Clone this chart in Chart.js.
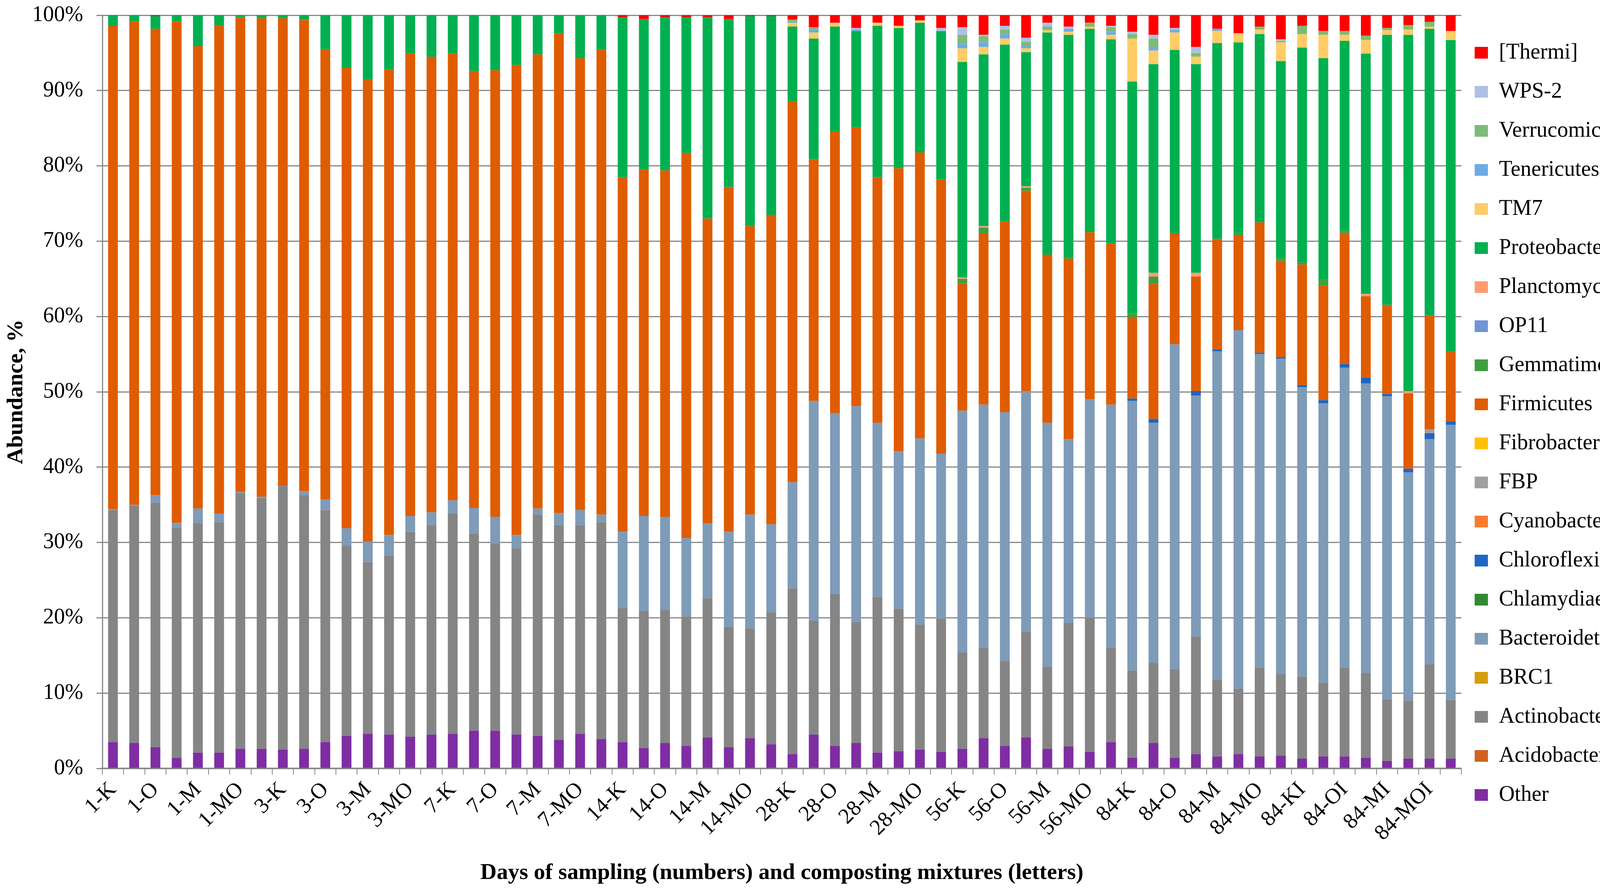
<!DOCTYPE html>
<html>
<head>
<meta charset="utf-8">
<script src="https://cdn.jsdelivr.net/npm/chart.js@4/dist/chart.umd.min.js"></script>
<style>
  html, body { margin: 0; padding: 0; background: #fff; }
  #wrap { width: 4301px; height: 2291px; }
</style>
</head>
<body>
<div id="wrap"><canvas id="chart" width="4301" height="2291"></canvas></div>
<script>
// samples: day-mixture, two replicate bars each
const samples = ['1-K','1-O','1-M','1-MO','3-K','3-O','3-M','3-MO','7-K','7-O','7-M','7-MO',
  '14-K','14-O','14-M','14-MO','28-K','28-O','28-M','28-MO','56-K','56-O','56-M','56-MO',
  '84-K','84-O','84-M','84-MO','84-KI','84-OI','84-MI','84-MOI'];
const yTicks = [0,10,20,30,40,50,60,70,80,90,100];

// relative abundance (%) per bar
const other = [3.5,3.4,2.8,1.4,2.1,2.1,2.6,2.6, 2.5,2.6,3.5,4.3,4.6,4.5,4.2,4.5,
  4.6,5.0,5.0,4.5,4.3,3.8,4.6,3.9, 3.5,2.7,3.4,3.0,4.1,2.8,4.0,3.2,
  1.9,4.5,3.0,3.4,2.1,2.3,2.5,2.2, 2.6,4.0,3.0,4.1,2.6,2.9,2.2,3.5,
  1.4,3.4,1.4,1.9,1.6,1.9,1.6,1.7, 1.3,1.6,1.6,1.4,1.0,1.3,1.3,1.3];
const acidobacteria = [0,0,0,0,0,0,0,0, 0,0,0,0,0,0,0,0, 0,0,0,0,0,0,0,0, 0,0,0,0,0,0,0,0,
  0,0,0,0,0,0,0,0, 0,0,0,0,0,0,0,0, 0,0,0,0,0,0,0,0, 0,0,0,0,0,0,0,0];
const actinobacteria = [30.8,31.5,32.5,30.5,30.5,30.6,34.0,33.3, 34.9,33.7,30.8,25.3,22.8,23.8,27.2,27.8,
  29.3,26.2,24.9,24.7,29.4,28.5,27.7,28.8, 17.8,18.2,17.6,17.2,18.5,16.0,14.6,17.5,
  22.0,15.1,20.2,16.0,20.7,18.9,16.6,17.7, 12.8,12.0,11.3,14.0,10.9,16.4,17.8,12.6,
  11.6,10.6,11.8,15.6,10.2,8.7,11.8,10.8, 10.9,9.8,11.8,11.3,8.2,7.7,12.5,7.8];
const brc1 = [0,0,0,0,0,0,0,0, 0,0,0,0,0,0,0,0, 0,0,0,0,0,0,0,0, 0,0,0,0,0,0,0,0,
  0,0,0,0,0,0,0,0, 0,0,0,0,0,0,0,0, 0,0,0,0,0,0,0,0, 0,0,0,0,0,0,0,0];
const bacteroidetes = [0.1,0.1,1.0,0.7,1.9,1.1,0.1,0.2, 0.1,0.5,1.4,2.3,2.7,2.7,2.1,1.7,
  1.7,3.4,3.5,1.8,0.8,1.6,2.0,1.0, 10.1,12.6,12.4,10.4,9.9,12.6,15.1,11.7,
  14.1,29.2,24.0,28.7,23.1,20.9,24.7,21.9, 32.1,32.3,33.0,32.0,32.4,24.4,29.0,32.2,
  35.8,31.9,43.1,32.0,43.6,47.6,41.6,41.9, 38.4,37.1,39.8,38.4,40.2,30.3,29.9,36.5];
const chlamydiae = [0,0,0,0,0,0,0,0, 0,0,0,0,0,0,0,0, 0,0,0,0,0,0,0,0, 0,0,0,0,0,0,0,0,
  0,0,0,0,0,0,0,0, 0,0,0,0,0,0,0,0, 0,0,0,0,0,0,0,0, 0,0,0,0,0,0,0,0];
const chloroflexi = [0,0,0,0,0,0,0,0, 0,0,0,0,0,0,0,0, 0,0,0,0,0,0,0,0, 0,0,0,0,0,0,0,0,
  0,0,0,0,0,0,0,0, 0,0,0,0,0,0,0,0, 0.3,0.5,0,0.6,0.2,0,0.2,0.2, 0.3,0.4,0.5,0.8,0.3,0.5,0.8,0.5];
const cyanobacteria = [0,0,0,0,0,0,0,0, 0,0,0,0,0,0,0,0, 0,0,0,0,0,0,0,0, 0,0,0,0,0,0,0,0,
  0,0,0,0,0,0,0,0, 0,0,0,0,0,0,0,0, 0,0,0,0,0,0,0,0, 0,0,0,0,0,0,0,0];
const fbp = [0,0,0,0,0,0,0,0, 0,0,0,0,0,0,0,0, 0,0,0,0,0,0,0,0, 0,0,0,0,0,0,0,0,
  0,0,0,0,0,0,0,0, 0,0,0,0,0,0,0,0, 0,0,0,0,0,0,0,0, 0,0,0,0,0,0,0.5,0];
const fibrobacteres = [0,0,0,0,0,0,0,0, 0,0,0,0,0,0,0,0, 0,0,0,0,0,0,0,0, 0,0,0,0,0,0,0,0,
  0,0,0,0,0,0,0,0, 0,0,0,0,0,0,0,0, 0,0,0,0,0,0,0,0, 0,0,0,0,0,0,0,0];
const firmicutes = [64.2,64.2,61.9,66.6,61.4,64.9,63.0,63.5, 62.1,62.6,59.8,61.1,61.3,61.8,61.4,60.5,
  59.3,58.0,59.3,62.4,60.3,63.7,60.0,61.7, 47.1,46.0,46.0,51.1,40.5,45.8,38.3,41.1,
  50.5,32.1,37.4,37.0,32.6,37.6,38.0,36.4, 16.9,22.7,25.3,26.6,22.3,24.0,22.2,21.4,
  10.7,17.9,14.7,15.2,14.7,12.6,17.3,12.8, 16.0,15.2,17.4,10.8,11.7,10.0,15.1,9.2];
const gemmatimonadetes = [0,0,0,0,0,0,0,0, 0,0,0,0,0,0,0,0, 0,0,0,0,0,0,0,0, 0,0,0,0,0,0,0,0,
  0,0,0,0,0,0,0,0, 0.6,0.8,0,0.4,0,0,0,0, 0.6,1.0,0,0,0,0.3,0,0.3, 0.3,0.8,0.3,0,0.2,0,0,0];
const op11 = [0,0,0,0,0,0,0,0, 0,0,0,0,0,0,0,0, 0,0,0,0,0,0,0,0, 0,0,0,0,0,0,0,0,
  0,0,0,0,0,0,0,0, 0,0,0,0,0,0,0,0, 0,0,0,0,0,0,0,0, 0,0,0,0,0,0,0,0];
const planctomycetes = [0,0,0,0,0,0,0,0, 0,0,0,0,0,0,0,0, 0,0,0,0,0,0,0,0, 0,0,0,0,0,0,0,0,
  0,0,0,0,0,0,0,0, 0.2,0.2,0,0.2,0,0,0,0, 0,0.5,0,0.5,0,0,0,0, 0,0,0,0.3,0,0.3,0,0];
const proteobacteria = [1.4,0.8,1.7,0.8,4.1,1.3,0.3,0.4, 0.4,0.6,4.5,7.0,8.6,7.2,5.1,5.5,
  5.1,7.4,7.3,6.6,5.2,2.4,5.7,4.6, 21.2,20.0,20.3,18.0,26.7,22.3,27.9,26.4,
  10.0,16.0,13.9,12.8,20.1,18.6,17.2,19.7, 28.6,22.8,23.5,17.8,29.5,29.7,27.0,27.1,
  30.8,27.7,24.4,27.7,26.0,25.3,25.0,26.2, 28.5,29.4,25.2,31.9,35.8,47.3,38.1,41.4];
const tm7 = [0,0,0,0,0,0,0,0, 0,0,0,0,0,0,0,0, 0,0,0,0,0,0,0,0, 0,0,0,0,0,0,0,0,
  0.5,0.8,0.4,0,0.4,0.3,0.3,0, 1.8,1.0,0.8,0.5,0.3,0.4,0.3,0.6,
  5.7,1.8,2.3,1.0,1.6,1.2,0.6,2.5, 1.8,3.1,0.8,1.8,0.6,0.7,0.3,1.2];
const tenericutes = [0,0,0,0,0,0,0,0, 0,0,0,0,0,0,0,0, 0,0,0,0,0,0,0,0, 0,0,0,0,0,0,0,0,
  0.2,0.4,0,0.2,0,0,0,0, 0.6,0.6,0.6,0.3,0,0.4,0,0.4, 0,0.5,0.4,0,0.3,0,0,0, 0,0,0,0,0,0,0,0];
const verrucomicrobia = [0,0,0,0,0,0,0,0, 0,0,0,0,0,0,0,0, 0,0,0,0,0,0,0,0, 0,0,0,0,0,0,0,0,
  0.2,0.3,0,0,0,0,0,0, 1.2,0.8,0.6,0.6,0.5,0,0.5,0.6,
  0.6,1.1,0,0.5,0,0,0.4,0.2, 1.1,0.5,0.5,0.6,0.3,0.6,0.6,0];
const wps2 = [0,0,0,0,0,0,0,0, 0,0,0,0,0,0,0,0, 0,0,0,0,0,0,0,0, 0,0,0,0,0,0,0,0,
  0,0,0.1,0.2,0,0,0,0.4, 1.0,0.2,0.5,0.5,0.5,0.3,0,0.2, 0.3,0.5,0.2,0.8,0,0,0,0.2, 0,0,0,0,0,0,0,0];
const thermi = [0,0,0.1,0,0,0,0,0, 0,0,0,0,0,0,0,0, 0,0,0,0,0,0,0,0,
  0.3,0.5,0.3,0.3,0.3,0.5,0.1,0.1, 0.6,1.6,1.0,1.7,1.0,1.4,0.7,1.7,
  1.6,2.6,1.4,3.0,1.0,1.5,1.0,1.4, 2.2,2.6,1.7,4.2,1.8,2.4,1.5,3.2,
  1.4,2.1,2.1,2.7,1.7,1.3,0.9,2.1];

const series = [
  ['Other', other, '#7F2DA3'],
  ['Acidobacteria', acidobacteria, '#D0621F'],
  ['Actinobacteria', actinobacteria, '#858585'],
  ['BRC1', brc1, '#D69D0A'],
  ['Bacteroidetes', bacteroidetes, '#7E9BB8'],
  ['Chlamydiae', chlamydiae, '#2F8A34'],
  ['Chloroflexi', chloroflexi, '#1D66C2'],
  ['Cyanobacteria', cyanobacteria, '#F97B2B'],
  ['FBP', fbp, '#A0A0A0'],
  ['Fibrobacteres', fibrobacteres, '#FFC000'],
  ['Firmicutes', firmicutes, '#E05C00'],
  ['Gemmatimonadetes', gemmatimonadetes, '#3F9F3F'],
  ['OP11', op11, '#7094D6'],
  ['Planctomycetes', planctomycetes, '#FF9B71'],
  ['Proteobacteria', proteobacteria, '#00B050'],
  ['TM7', tm7, '#FFCC66'],
  ['Tenericutes', tenericutes, '#6CACE4'],
  ['Verrucomicrobia', verrucomicrobia, '#7DBB78'],
  ['WPS-2', wps2, '#AFC0E4'],
  ['[Thermi]', thermi, '#FF0000']
];

const labels = samples.flatMap(s => [s, s]);
const serif = "'Liberation Serif', 'Times New Roman', serif";
Chart.defaults.font.family = serif;
Chart.defaults.color = '#000';

new Chart(document.getElementById('chart'), {
  type: 'bar',
  data: {
    labels: labels,
    datasets: series.map(([name, values, color]) => ({
      label: name,
      data: values,
      backgroundColor: color,
      borderWidth: 0,
      barPercentage: 0.46,
      categoryPercentage: 1
    }))
  },
  options: {
    responsive: false,
    devicePixelRatio: 1,
    animation: false,
    layout: { padding: { top: 39, right: 6, bottom: 0, left: 0 } },
    plugins: {
      tooltip: { enabled: false },
      legend: {
        position: 'right',
        align: 'start',
        reverse: true,
        title: { display: true, text: ' ', font: { size: 10, lineHeight: '12px' }, padding: { top: 22, bottom: 0 } },
        labels: {
          boxWidth: 34,
          boxHeight: 30,
          padding: 34,
          color: '#000',
          font: { size: 56, lineHeight: '66px' },
          // wrap text in an array so the row height follows the font lineHeight
          generateLabels: (chart) => Chart.defaults.plugins.legend.labels.generateLabels(chart)
            .map(item => Object.assign(item, { text: [item.text] }))
        }
      }
    },
    scales: {
      x: {
        stacked: true,
        grid: { display: true, drawOnChartArea: false, drawTicks: true, tickLength: 16, color: '#888', lineWidth: 2 },
        border: { display: true, color: '#888', width: 4 },
        ticks: {
          autoSkip: false,
          minRotation: 45,
          maxRotation: 45,
          padding: 6,
          font: { size: 56 },
          callback: function (v, i) { return i % 2 === 0 ? this.getLabelForValue(v) : ''; }
        },
        title: {
          display: true,
          text: 'Days of sampling (numbers) and composting mixtures (letters)',
          font: { size: 58, weight: 'bold', lineHeight: 1.2 },
          padding: { top: 0, bottom: 21 }
        },
        afterFit: (scale) => { scale.height = 324; }
      },
      y: {
        stacked: true,
        min: 0,
        max: 100,
        afterBuildTicks: (scale) => { scale.ticks = yTicks.map(v => ({ value: v })); },
        grid: { color: '#888', lineWidth: 3, tickLength: 15, drawTicks: true },
        border: { display: true, color: '#888', width: 3 },
        ticks: {
          padding: 34,
          font: { size: 56 },
          callback: (v) => v + '%'
        },
        title: {
          display: true,
          text: 'Abundance, %',
          font: { size: 58, weight: 'bold', lineHeight: 1.2 },
          padding: { top: 7, bottom: 0 }
        },
        afterFit: (scale) => {
          scale.width = 262;
          // keep the top of the plot where the 100% line sits in the figure
          scale.paddingTop = 5;
          scale.paddingBottom = 5;
        }
      }
    }
  }
});
</script>
</body>
</html>
